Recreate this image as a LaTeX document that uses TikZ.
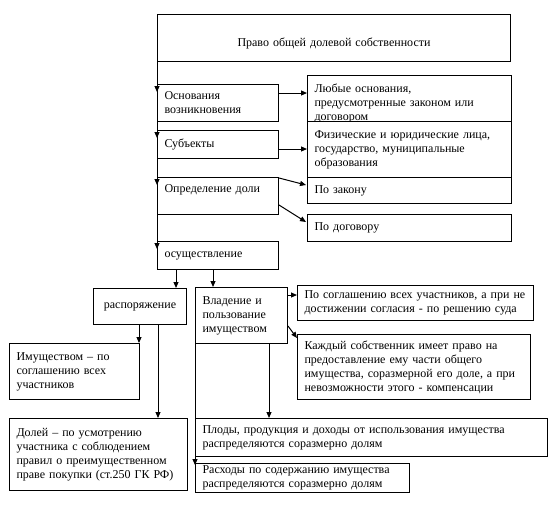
\documentclass[tikz,border=0pt]{standalone}
\usepackage{fontspec}
\setmainfont{Liberation Serif}
\usetikzlibrary{arrows.meta,calc}
\tikzset{
  box/.style={draw, line width=1pt, fill=white, anchor=north west, inner xsep=7pt, inner ysep=0pt, align=left, font=\fontsize{12}{14}\selectfont},
  arr/.style={line width=1pt, -{Triangle[length=6pt,width=5pt]}}
}
\newcommand\bx[7][]{\pgfmathsetmacro\tw{#5-14}\node[box, minimum height=#6pt, text width=\tw pt, #1] (#2) at (#3pt,-#4pt) {#7};}
\begin{document}
\begin{tikzpicture}
\useasboundingbox (0,0) rectangle (552pt,-512pt);
\bx[align=center]{title}{157}{14}{353}{47}{\rule{0pt}{19pt}Право общей долевой собственности}
\bx{osn}{157}{84}{121}{37}{Основания\\возникновения}
\bx{sub}{157}{130}{121}{28}{Субъекты}
\bx{opr}{157}{177}{121}{37}{Определение  доли\\\mbox{}}
\bx{osu}{157}{241}{121}{28}{осуществление}
\bx{lyub}{307}{75}{204}{46}{\rule{0pt}{16.5pt}Любые основания,\\предусмотренные законом или\\договором}
\bx{fiz}{307}{121}{204}{56}{Физические и юридические лица,\\государство, муниципальные\\образования}
\bx{zak}{307}{177}{204}{26}{По закону}
\bx{dog}{307}{214}{204}{27}{По договору}
\bx[align=center]{rasp}{93}{288}{93}{36}{распоряжение}
\bx{vlad}{195}{287}{92}{56}{Владение и\\пользование\\имуществом}
\bx{sogl}{297}{285}{236}{35}{\mbox{По соглашению всех участников, а при не}\\\mbox{достижении согласия - по решению суда}}
\bx{kazh}{297}{334}{233}{65}{Каждый собственник имеет право на\\предоставление ему части общего\\имущества, соразмерной его доле, а при\\невозможности этого - компенсации}
\bx{imush}{9}{343}{130}{56}{Имуществом – по\\соглашению всех\\участников}
\bx{dolei}{9}{418}{178}{72}{Долей – по усмотрению\\участника с соблюдением\\правил о преимущественном\\праве покупки (ст.250 ГК РФ)}
\bx{plody}{195}{418}{352}{38}{Плоды, продукция и доходы от использования имущества\\распределяются соразмерно долям}
\bx{rash}{195}{463}{214}{29}{Расходы по содержанию имущества\\распределяются соразмерно долям}
% trunk
\draw[arr] (title.south west) -- ($(osn.north west)+(0pt,-8pt)$) coordinate (t1);
\draw[arr] (t1) -- ($(sub.north west)+(0pt,-8pt)$) coordinate (t2);
\draw[arr] (t2) -- ($(opr.north west)+(0pt,-8pt)$) coordinate (t3);
\draw[arr] (t3) -- ($(osu.north west)+(0pt,-8pt)$);
% right arrows
\draw[arr] ($(osn.north east)+(0pt,-9pt)$) coordinate (c1) -- (c1 -| lyub.west);
\draw[arr] ($(sub.north east)+(0pt,-19pt)$) coordinate (c2) -- (c2 -| fiz.west);
\draw[arr] ($(opr.north east)+(0pt,-1pt)$) -- ($(zak.north west)+(-1pt,-8pt)$);
\draw[arr] ($(opr.north east)+(0pt,-28pt)$) -- ($(dog.north west)+(-1pt,-8pt)$);
% lower part
\draw[arr] ($(osu.south west)+(19pt,0pt)$) coordinate (c3) -- (c3 |- rasp.north);
\draw[arr] ($(osu.south west)+(56pt,0pt)$) coordinate (c4) -- (c4 |- vlad.north);
\draw[arr] ($(vlad.north east)+(0pt,-8pt)$) coordinate (c5) -- (c5 -| sogl.west);
\draw[arr] ($(vlad.north east)+(0pt,-39pt)$) -- ($(kazh.north west)+(0pt,-4pt)$);
\draw[arr] ($(rasp.south west)+(46pt,0pt)$) coordinate (c6) -- (c6 |- imush.north);
\draw[arr] ($(rasp.south west)+(65pt,0pt)$) coordinate (c7) -- (c7 |- dolei.north);
\draw[arr] ($(vlad.south west)+(74pt,0pt)$) coordinate (c8) -- (c8 |- plody.north);
\draw[arr] (vlad.south west) -- ($(rash.north west)+(0pt,-2pt)$);
\end{tikzpicture}
\end{document}
